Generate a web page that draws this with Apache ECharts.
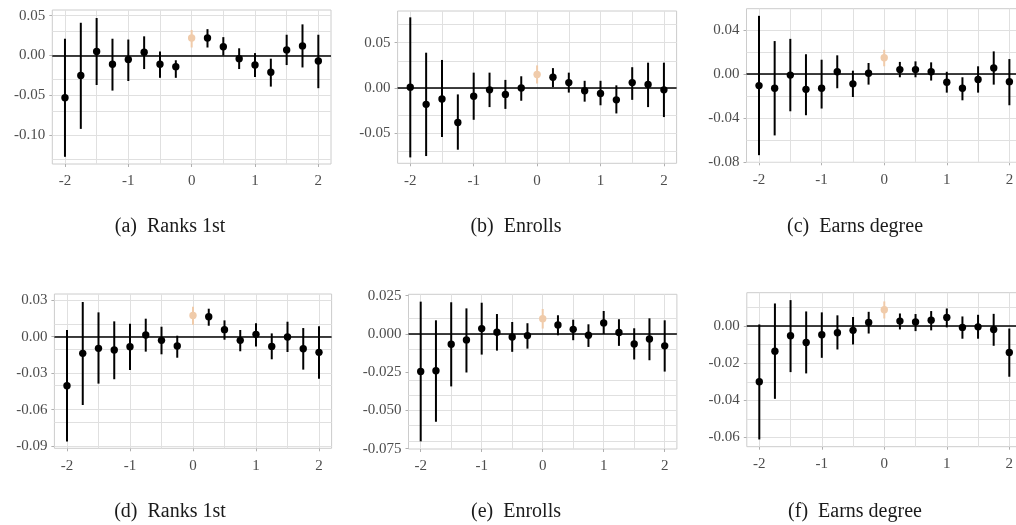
<!DOCTYPE html>
<html><head><meta charset="utf-8">
<script src="https://cdn.jsdelivr.net/npm/echarts@6/dist/echarts.min.js"></script>
<style>html,body{margin:0;padding:0;background:#fff}#c{width:1016px;height:525px}</style>
</head><body><div id="c"></div><script>
// ---------- data ----------
const xValues = [-2,-1.75,-1.5,-1.25,-1,-0.75,-0.5,-0.25,0,0.25,0.5,0.75,1,1.25,1.5,1.75,2];
const refX = 0;
const xTicks = [-2,-1,0,1,2];
const xTickLabels = ['-2','-1','0','1','2'];
const xMinorGrid = [-1.5,-0.5,0.5,1.5];

// (a) Ranks 1st
const aEst = [-0.053,-0.025,0.005,-0.011,-0.005,0.004,-0.011,-0.014,0.022,0.022,0.011,-0.004,-0.012,-0.021,0.007,0.012,-0.007];
const aLo  = [-0.127,-0.092,-0.037,-0.044,-0.032,-0.017,-0.028,-0.028,0.010,0.010,0.000,-0.017,-0.027,-0.039,-0.012,-0.015,-0.041];
const aHi  = [0.021,0.041,0.047,0.021,0.020,0.024,0.005,-0.006,0.032,0.033,0.023,0.009,0.003,-0.004,0.026,0.039,0.026];
const aYTicks = [0.05,0,-0.05,-0.10];
const aYLabels = ['0.05','0.00','-0.05','-0.10'];
const aYMinor = [0.025,-0.025,-0.075,-0.125];

// (b) Enrolls
const bEst = [0.001,-0.018,-0.012,-0.038,-0.009,-0.002,-0.007,0.000,0.015,0.012,0.006,-0.003,-0.006,-0.013,0.006,0.004,-0.002];
const bLo  = [-0.0765,-0.075,-0.054,-0.068,-0.035,-0.021,-0.023,-0.014,0.005,0.001,-0.005,-0.015,-0.019,-0.028,-0.013,-0.021,-0.032];
const bHi  = [0.078,0.039,0.031,-0.007,0.017,0.017,0.009,0.013,0.025,0.022,0.017,0.008,0.008,0.003,0.023,0.028,0.028];
const bYTicks = [0.05,0,-0.05];
const bYLabels = ['0.05','0.00','-0.05'];
const bYMinor = [0.075,0.025,-0.025,-0.075];

// (c) Earns degree
const cEst = [-0.0106,-0.013,-0.001,-0.014,-0.013,0.002,-0.009,0.0006,0.0148,0.004,0.004,0.002,-0.0076,-0.013,-0.005,0.0055,-0.007];
const cLo  = [-0.074,-0.056,-0.034,-0.0376,-0.0315,-0.013,-0.021,-0.0097,0.007,-0.003,-0.003,-0.006,-0.017,-0.024,-0.017,-0.0097,-0.0285];
const cHi  = [0.053,0.030,0.032,0.018,0.013,0.017,0.003,0.010,0.022,0.011,0.0115,0.0106,0.002,-0.003,0.007,0.0206,0.0136];
const cYTicks = [0.04,0,-0.04,-0.08];
const cYLabels = ['0.04','0.00','-0.04','-0.08'];
const cYMinor = [0.02,-0.02,-0.06];

// (d) Ranks 1st
const dEst = [-0.0403,-0.0137,-0.0096,-0.011,-0.0082,0.0014,-0.003,-0.0077,0.0175,0.0164,0.0058,-0.003,0.0019,-0.008,-0.0003,-0.0099,-0.0129];
const dLo  = [-0.0863,-0.0562,-0.0386,-0.035,-0.0274,-0.0123,-0.0145,-0.0173,0.0099,0.009,-0.0025,-0.012,-0.008,-0.0186,-0.0126,-0.0271,-0.0345];
const dHi  = [0.0055,0.0285,0.020,0.0126,0.0107,0.0148,0.0082,0.0008,0.0247,0.023,0.0134,0.0055,0.011,0.0027,0.0123,0.0071,0.0085];
const dYTicks = [0.03,0,-0.03,-0.06,-0.09];
const dYLabels = ['0.03','0.00','-0.03','-0.06','-0.09'];
const dYMinor = [0.015,-0.015,-0.045,-0.075];

// (e) Enrolls
const eEst = [-0.0246,-0.0241,-0.0067,-0.0039,0.0035,0.0011,-0.002,-0.0011,0.010,0.0059,0.003,-0.0009,0.0072,0.0009,-0.0065,-0.0033,-0.0078];
const eLo  = [-0.0702,-0.0574,-0.0343,-0.0252,-0.0135,-0.0109,-0.0117,-0.0096,0.0035,-0.0009,-0.0041,-0.0085,0.0000,-0.0078,-0.0167,-0.0172,-0.0246];
const eHi  = [0.0211,0.0089,0.0207,0.0167,0.0204,0.013,0.0078,0.007,0.0163,0.0122,0.0093,0.0063,0.015,0.0096,0.0037,0.0102,0.0089];
const eYTicks = [0.025,0,-0.025,-0.05,-0.075];
const eYLabels = ['0.025','0.000','-0.025','-0.050','-0.075'];
const eYMinor = [0.0125,-0.0125,-0.0375,-0.0625];

// (f) Earns degree
const fEst = [-0.030,-0.0135,-0.0052,-0.0088,-0.0047,-0.0036,-0.0023,0.002,0.0088,0.0027,0.0022,0.0032,0.0047,-0.0007,-0.0004,-0.0018,-0.0142];
const fLo  = [-0.0611,-0.0392,-0.0248,-0.0255,-0.0171,-0.0126,-0.0099,-0.004,0.0041,-0.0018,-0.0027,-0.0023,-0.0007,-0.0068,-0.0068,-0.0106,-0.0273];
const fHi  = [0.0009,0.0122,0.014,0.0079,0.0074,0.0058,0.0049,0.0077,0.0133,0.0068,0.0065,0.0081,0.0095,0.0052,0.0061,0.0066,-0.0013];
const fYTicks = [0,-0.02,-0.04,-0.06];
const fYLabels = ['0.00','-0.02','-0.04','-0.06'];
const fYMinor = [0.01,-0.01,-0.03,-0.05];

const captions = ['(a)  Ranks 1st','(b)  Enrolls','(c)  Earns degree','(d)  Ranks 1st','(e)  Enrolls','(f)  Earns degree'];

// ---------- layout / styles ----------
const panels = [
  {est:aEst, lo:aLo, hi:aHi, ticks:aYTicks, labels:aYLabels, minor:aYMinor, ymin:-0.136, ymax:0.057,  box:[52.3,10,278.7,154], cap:[170,227]},
  {est:bEst, lo:bLo, hi:bHi, ticks:bYTicks, labels:bYLabels, minor:bYMinor, ymin:-0.083, ymax:0.085,  box:[397.6,11,279,152.3], cap:[516,227]},
  {est:cEst, lo:cLo, hi:cHi, ticks:cYTicks, labels:cYLabels, minor:cYMinor, ymin:-0.0805, ymax:0.0595, box:[746.5,8.7,275.4,153.6], cap:[855,227]},
  {est:dEst, lo:dLo, hi:dHi, ticks:dYTicks, labels:dYLabels, minor:dYMinor, ymin:-0.0918, ymax:0.0351, box:[54.4,294,277.2,154.3], cap:[170,512]},
  {est:eEst, lo:eLo, hi:eHi, ticks:eYTicks, labels:eYLabels, minor:eYMinor, ymin:-0.0752, ymax:0.0259, box:[408.5,294.3,268.4,154.7], cap:[516,512]},
  {est:fEst, lo:fLo, hi:fHi, ticks:fYTicks, labels:fYLabels, minor:fYMinor, ymin:-0.065, ymax:0.018,  box:[746.8,292.7,275,154], cap:[855,512]}
];

const FONT = '"Liberation Serif", "DejaVu Serif", serif';
const GRID_COLOR = '#E0E0E0';
const BORDER_COLOR = '#CCCCCC';
const LABEL_COLOR = '#4D4D4D';
const REF_COLOR = '#F0CBAA';

function renderErr(params, api) {
  const x = api.value(0), est = api.value(1), lo = api.value(2), hi = api.value(3);
  const pLo = api.coord([x, lo]), pHi = api.coord([x, hi]), p = api.coord([x, est]);
  const color = api.visual('color');
  return {type:'group', children:[
    {type:'line', shape:{x1:pLo[0], y1:pLo[1], x2:pHi[0], y2:pHi[1]}, style:{stroke:color, lineWidth:2}},
    {type:'circle', shape:{cx:p[0], cy:p[1], r:3.7}, style:{fill:color}}
  ]};
}

const grid = [], xAxis = [], yAxis = [], series = [];
panels.forEach((P, i) => {
  grid.push({left:P.box[0], top:P.box[1], width:P.box[2], height:P.box[3],
    show:true, borderColor:BORDER_COLOR, borderWidth:1, backgroundColor:'transparent',
    containLabel:false, outerBoundsMode:'none'});
  xAxis.push({type:'value', gridIndex:i, min:-2.2, max:2.2, position:'bottom',
    axisLine:{show:false, onZero:false}, splitLine:{show:false}, splitArea:{show:false},
    axisTick:{show:true, customValues:xTicks, length:3, lineStyle:{color:'#B0B0B0'}},
    axisLabel:{customValues:xTicks, margin:10, color:LABEL_COLOR, fontFamily:FONT, fontSize:15,
      formatter:v => xTickLabels[xTicks.indexOf(v)]}});
  yAxis.push({type:'value', gridIndex:i, min:P.ymin, max:P.ymax, position:'left',
    axisLine:{show:false, onZero:false}, splitLine:{show:false}, splitArea:{show:false},
    axisTick:{show:true, customValues:P.ticks, length:3, lineStyle:{color:'#B0B0B0'}},
    axisLabel:{customValues:P.ticks, margin:7, color:LABEL_COLOR, fontFamily:FONT, fontSize:15,
      formatter:v => { let k = P.ticks.findIndex(t => Math.abs(t - v) < 1e-9); return k >= 0 ? P.labels[k] : ''; }}});
  const vLines = xTicks.concat(xMinorGrid).map(v => ({xAxis:v}));
  const hLines = P.ticks.concat(P.minor).map(v => ({yAxis:v}));
  series.push({type:'line', xAxisIndex:i, yAxisIndex:i, data:[], z:1, silent:true,
    markLine:{z:1, silent:true, animation:false, symbol:['none','none'], label:{show:false},
      lineStyle:{color:GRID_COLOR, width:1, type:'solid'}, emphasis:{disabled:true},
      data: vLines.concat(hLines)}});
  series.push({type:'line', xAxisIndex:i, yAxisIndex:i, data:[], z:2, silent:true,
    markLine:{z:2, silent:true, animation:false, symbol:['none','none'], label:{show:false},
      lineStyle:{color:'#000000', width:1.6, type:'solid'}, emphasis:{disabled:true},
      data:[{yAxis:0}]}});
  const main = [], ref = [];
  xValues.forEach((x, k) => {
    const row = [x, P.est[k], P.lo[k], P.hi[k]];
    (x === refX ? ref : main).push(row);
  });
  series.push({type:'custom', xAxisIndex:i, yAxisIndex:i, z:3, renderItem:renderErr,
    itemStyle:{color:REF_COLOR}, encode:{x:0, y:[1,2,3]}, data:ref, silent:true});
  series.push({type:'custom', xAxisIndex:i, yAxisIndex:i, z:4, renderItem:renderErr,
    itemStyle:{color:'#000000'}, encode:{x:0, y:[1,2,3]}, data:main, silent:true});
});

const chart = echarts.init(document.getElementById('c'), null, {renderer:'canvas'});
chart.setOption({animation:false, backgroundColor:'#ffffff', grid, xAxis, yAxis, series,
  graphic: panels.map((P, i) => ({type:'text', x:P.cap[0], y:P.cap[1],
    style:{text:captions[i], fill:'#1a1a1a', font:'20px ' + FONT, align:'center', verticalAlign:'middle'}}))});
</script></body></html>
